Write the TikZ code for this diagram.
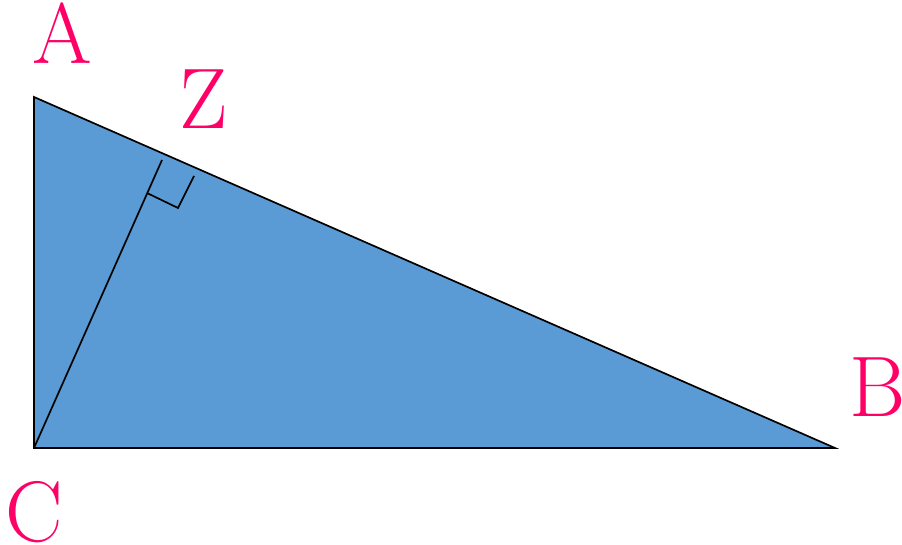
\documentclass[tikz,border=0pt]{standalone}
\definecolor{fillblue}{RGB}{91,155,213}
\definecolor{labelpink}{RGB}{255,0,102}
\begin{document}
\begin{tikzpicture}[x=1pt,y=-1pt,
  lbl/.style={text=labelpink,font=\fontsize{86}{86}\selectfont,inner sep=0pt,anchor=base},
  edge/.style={line width=1.7pt,line join=miter}]
\useasboundingbox (0,0) rectangle (902,545);
\coordinate (A) at (34,97);
\coordinate (C) at (34,448);
\coordinate (B) at (835,448);
\coordinate (H) at (162,160);
\coordinate (M1) at (147,193);
\coordinate (M2) at (178,208);
\coordinate (M3) at (194,176);
\fill[fillblue] (A) -- (B) -- (C) -- cycle;
\draw[edge] (A) -- (B) -- (C) -- cycle;
\draw[edge] (C) -- (H);
\draw[edge] (M1) -- (M2) -- (M3);
\node[lbl] (la) at (62.5,64) {A};
\node[lbl] (lz) at (204,129) {Z};
\node[lbl] (lb) at (877.5,416) {B};
\node[lbl] (lc) at (34,541) {C};
\end{tikzpicture}
\end{document}
